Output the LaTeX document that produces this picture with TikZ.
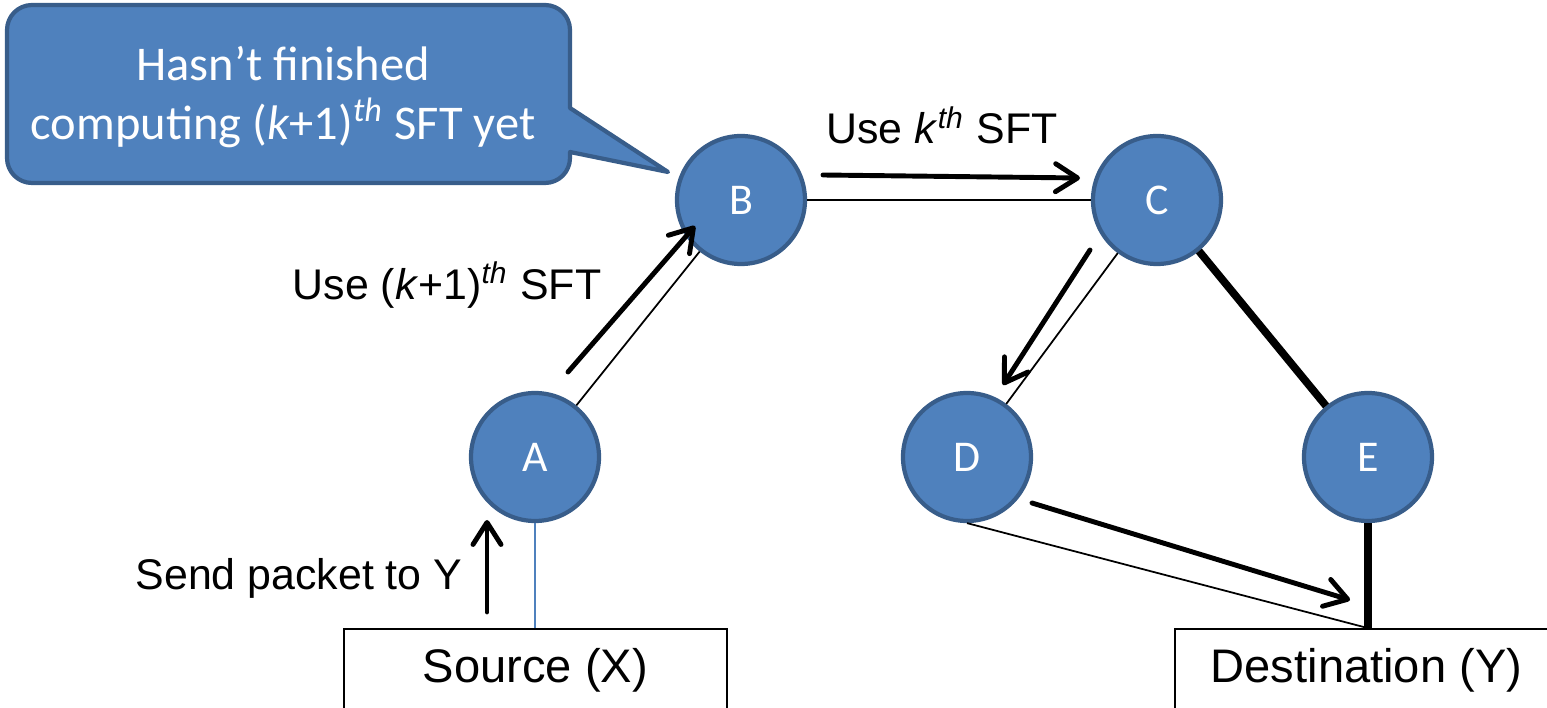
\documentclass[tikz,border=0pt]{standalone}
\usepackage{fontspec}
\setmainfont{Liberation Sans}
\newfontfamily\calibrifont{Carlito}
\usepackage{tikz}
\usetikzlibrary{calc}
\usetikzlibrary{arrows.meta}
\definecolor{officeblue}{RGB}{79, 129, 189}
\definecolor{officeedge}{RGB}{56, 93, 138}

\begin{document}
\begin{tikzpicture}[
    router/.style={circle, draw=officeedge, fill=officeblue, line width=1.2pt, minimum size=1.28cm,
                   inner sep=0pt, text=white, font=\calibrifont\fontsize{12.5}{14}\selectfont},
    hostbox/.style={rectangle, draw=black, line width=0.5pt, minimum width=3.83cm, minimum height=0.82cm,
                    inner sep=0pt, font=\fontsize{13.4}{16}\selectfont},
    link/.style={draw=black, line width=0.5pt},
    heavylink/.style={draw=black, line width=2.2pt},
    flow/.style={draw=black, line width=1.4pt, line cap=round,
                 -{Straight Barb[length=2.2mm, width=2.8mm, round]}},
    lbl/.style={font=\fontsize{12.2}{14}\selectfont}
  ]
            \clip (0.00, 0.00) rectangle (15.47, 7.07);
            % routers and end hosts
            \node[router]  (A)   at ( 5.35, 2.50) {A};
            \node[router]  (B)   at ( 7.41, 5.07) {B};
            \node[router]  (C)   at (11.57, 5.07) {C};
            \node[router]  (D)   at ( 9.67, 2.50) {D};
            \node[router]  (E)   at (13.68, 2.50) {E};
            \node[hostbox] (src) at ( 5.355, 0.37) {Source (X)};
            \node[hostbox] (dst) at (13.665, 0.37) {Destination (Y)};
            % links
            \draw[officeblue, line width=0.6pt] (A.south) -- (A |- src.north);
            \draw[link]      (A) -- (B);
            \draw[link]      (B) -- (C);
            \draw[link]      (C) -- (D);
            \draw[heavylink] (C) -- (E);
            \draw[link]      (D.south) -- (E |- dst.north);
            \draw[heavylink] (E.south) -- (E |- dst.north);
            % callout
            \coordinate (tip) at (6.68, 5.35);
            \filldraw[officeedge, fill=officeblue, line width=1.2pt, line join=round]
                 (0.32, 7.02) -- (5.45, 7.02) arc[start angle=90, end angle=0, radius=0.25]
                 -- (5.70, 5.99) -- (tip) -- (5.70, 5.55)
                 -- (5.70, 5.49) arc[start angle=0, end angle=-90, radius=0.25]
                 -- (0.32, 5.24) arc[start angle=270, end angle=180, radius=0.25]
                 -- (0.07, 6.77) arc[start angle=180, end angle=90, radius=0.25] -- cycle;
            \node[text=white, align=center, font=\calibrifont\fontsize{13.8}{16.8}\selectfont] (note) at (2.83, 6.10)
                 {Hasn’t finished\\computing (\textit{k}+1)\textsuperscript{\textit{th}} SFT yet};
            % packet path
            \coordinate (sendS) at ( 4.87, 0.95);  \coordinate (sendE) at ( 4.87, 1.87);
            \coordinate (abS)   at ( 5.68, 3.35);  \coordinate (abE)   at ( 6.95, 4.81);
            \coordinate (bcS)   at ( 8.23, 5.32);  \coordinate (bcE)   at (10.80, 5.29);
            \coordinate (cdS)   at (10.90, 4.57);  \coordinate (cdE)   at (10.03, 3.22);
            \coordinate (dyS)   at (10.32, 2.04);  \coordinate (dyE)   at (13.50, 1.07);
            \draw[flow] (sendS) -- (sendE);
            \draw[flow] (abS)   -- (abE);
            \draw[flow] (bcS)   -- (bcE);
            \draw[flow] (cdS)   -- (cdE);
            \draw[flow] (dyS)   -- (dyE);
            \node[lbl] (sendlbl) at (2.99, 1.29) {Send packet to Y};
            \node[lbl] (ablbl)   at (4.47, 4.22) {Use (\textit{k}+1)\textsuperscript{\textit{th}} SFT};
            \node[lbl] (bclbl)   at (9.42, 5.82) {Use \textit{k}\textsuperscript{\textit{th}} SFT};
\end{tikzpicture}
\end{document}
